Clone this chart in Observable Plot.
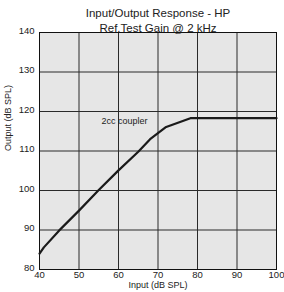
<!DOCTYPE html>
<html><head><meta charset="utf-8">
<script src="https://cdn.jsdelivr.net/npm/d3@7"></script>
<script src="https://cdn.jsdelivr.net/npm/@observablehq/plot@0.6"></script>
<style>body{margin:0;background:#fff;} svg{font-family:"Liberation Sans",Arial,sans-serif;}</style>
</head><body><div id="chart"></div>
<script>
const inputDb = [40, 41.1, 45, 50, 55, 60, 65, 68, 71.9, 78.2, 100];
const outputDb = [84, 85.6, 89.9, 94.9, 100.1, 105.1, 109.8, 113, 116, 118.3, 118.3];
const xTicks = [40, 50, 60, 70, 80, 90, 100];
const yTicks = [80, 90, 100, 110, 120, 130, 140];
const title1 = "Input/Output Response - HP";
const title2 = "Ref.Test Gain @ 2 kHz";
const seriesLabel = "2cc coupler";
const seriesLabelPos = [61.5, 117.6];

const data = inputDb.map((x, i) => ({x, y: outputDb[i]}));

const chart = Plot.plot({
  width: 284, height: 292,
  marginLeft: 39, marginRight: 8, marginTop: 32, marginBottom: 23,
  style: {fontFamily: '"Liberation Sans", Arial, sans-serif', fontSize: "9px", color: "#222", background: "#fff"},
  x: {domain: [40, 100], ticks: xTicks, tickSize: 0, tickPadding: 4, label: null},
  y: {domain: [80, 140], ticks: yTicks, tickSize: 0, tickPadding: 4, label: null},
  marks: [
    Plot.frame({fill: "#e6e6e6", stroke: null}),
    Plot.ruleX(xTicks, {stroke: "#2a2a2a", strokeWidth: 1}),
    Plot.ruleY(yTicks, {stroke: "#2a2a2a", strokeWidth: 1}),
    Plot.frame({stroke: "#111", strokeWidth: 1}),
    Plot.line(data, {x: "x", y: "y", stroke: "#1a1a1a", strokeWidth: 2.2}),
    Plot.text([seriesLabel], {x: seriesLabelPos[0], y: seriesLabelPos[1], text: d => d, fontSize: 9, fill: "#222"}),
    Plot.axisX({ticks: xTicks, tickSize: 0, tickPadding: 2, fontSize: 9.5, label: null}),
    Plot.axisY({ticks: yTicks, tickSize: 0, tickPadding: 5, fontSize: 9.5, label: null, dy: -2}),
    Plot.text([title1], {frameAnchor: "top", dy: -24, text: d => d, fontSize: 11.5, fill: "#222"}),
    Plot.text([title2], {frameAnchor: "top", dy: -9, text: d => d, fontSize: 11.5, fill: "#222"}),
    Plot.text(["Input (dB SPL)"], {frameAnchor: "bottom", dy: 18, text: d => d, fontSize: 9, fill: "#222"}),
    Plot.text(["Output (dB SPL)"], {frameAnchor: "left", dx: -31, rotate: -90, text: d => d, fontSize: 9, fill: "#222"})
  ]
});
document.getElementById("chart").append(chart);
</script></body></html>
